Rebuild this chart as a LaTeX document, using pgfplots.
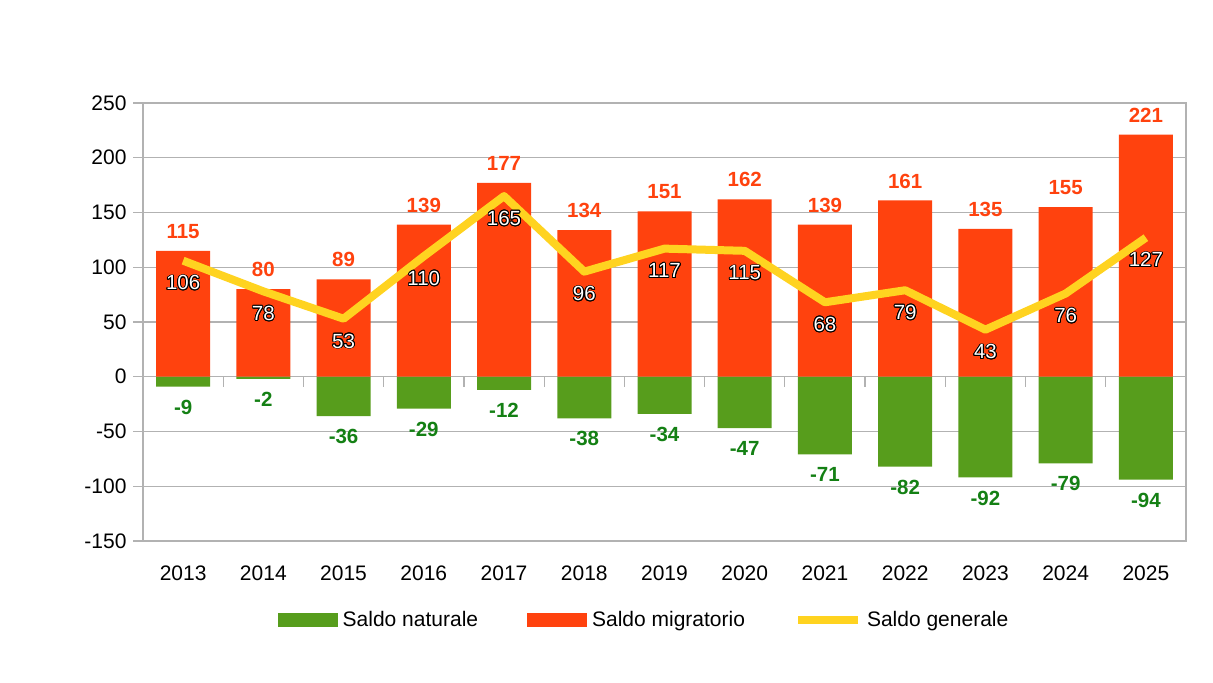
\documentclass[border=0pt]{standalone}
\usepackage{pgfplots}
\pgfplotsset{compat=1.18}
\usepackage{fontspec}
\setmainfont{Liberation Sans}
\usepackage{contour}
\contourlength{0.9bp}
\definecolor{cgreen}{HTML}{579D1C}
\definecolor{corange}{HTML}{FF420E}
\definecolor{cyellow}{HTML}{FFD320}
\definecolor{tgreen}{RGB}{20,128,20}
\begin{document}
\begin{tikzpicture}
\path[use as bounding box] (0,0) rectangle (1213bp,683bp);
\begin{axis}[
  at={(143bp,142bp)}, anchor=south west,
  scale only axis, width=1043bp, height=438bp,
  xmin=-0.5, xmax=12.5, ymin=-150, ymax=250,
  /pgf/number format/assume math mode=true,
  xtick={0,...,12},
  xticklabels={2013,2014,2015,2016,2017,2018,2019,2020,2021,2022,2023,2024,2025},
  ytick={-150,-100,-50,0,50,100,150,200,250},
  yticklabels={-150,-100,-50,0,50,100,150,200,250},
  xtick style={draw=none},
  ytick style={draw=gray!60, line width=1.2bp},
  tick align=outside, major tick length=10bp,
  ytick pos=left, xtick pos=left,
  ymajorgrids=true,
  major grid style={draw=gray!60, line width=1.2bp},
  axis line style={draw=gray!60, line width=1.2bp},
  ticklabel style={font=\fontsize{21bp}{25bp}\selectfont, text=black},
  xticklabel style={yshift=-11bp},
  yticklabel style={xshift=-3bp},
  legend columns=3,
  legend style={draw=none, fill=none, at={(0.4818,-0.18)}, anchor=center,
    font=\fontsize{21bp}{25bp}\selectfont,
    nodes={inner xsep=5bp, inner ysep=0pt, anchor=west},
    /tikz/every even column/.append style={column sep=44bp}},
]
\pgfplotsinvokeforeach{0.5,1.5,2.5,3.5,4.5,5.5,6.5,7.5,8.5,9.5,10.5,11.5}{
  \draw[gray!60, line width=1.2bp] (axis cs:#1,0) -- ([yshift=-10bp]axis cs:#1,0);
}
\addplot[ybar, bar width=0.673, bar shift=0pt, fill=cgreen, draw=none,
  legend image code/.code={\fill[cgreen] (0bp,-7bp) rectangle (60bp,7bp);},
  nodes near coords,
  every node near coord/.append style={anchor=north, inner sep=0pt, yshift=-13bp,
    text=tgreen, font=\fontsize{20.5bp}{24bp}\selectfont\bfseries}]
  coordinates {(0,-9) (1,-2) (2,-36) (3,-29) (4,-12) (5,-38) (6,-34) (7,-47) (8,-71) (9,-82) (10,-92) (11,-79) (12,-94)};
\addlegendentry{Saldo naturale}
\addplot[ybar, bar width=0.673, bar shift=0pt, fill=corange, draw=none,
  legend image code/.code={\fill[corange] (0bp,-7bp) rectangle (60bp,7bp);},
  nodes near coords,
  every node near coord/.append style={anchor=south, inner sep=0pt, yshift=12bp,
    text=corange, font=\fontsize{20.5bp}{24bp}\selectfont\bfseries}]
  coordinates {(0,115) (1,80) (2,89) (3,139) (4,177) (5,134) (6,151) (7,162) (8,139) (9,161) (10,135) (11,155) (12,221)};
\addlegendentry{Saldo migratorio}
\addplot[cyellow, line width=8bp, line join=round, no marks,
  legend image code/.code={\draw[cyellow, line width=8bp] (0bp,0bp) -- (60bp,0bp);},
  nodes near coords={\contour{black}{\textcolor{white}{\pgfmathprintnumber{\pgfplotspointmeta}}}},
  every node near coord/.append style={anchor=north, inner sep=0pt, yshift=-11bp,
    font=\fontsize{20.5bp}{24bp}\selectfont}]
  coordinates {(0,106) (1,78) (2,53) (3,110) (4,165) (5,96) (6,117) (7,115) (8,68) (9,79) (10,43) (11,76) (12,127)};
\addlegendentry{Saldo generale}
\end{axis}
\end{tikzpicture}
\end{document}
